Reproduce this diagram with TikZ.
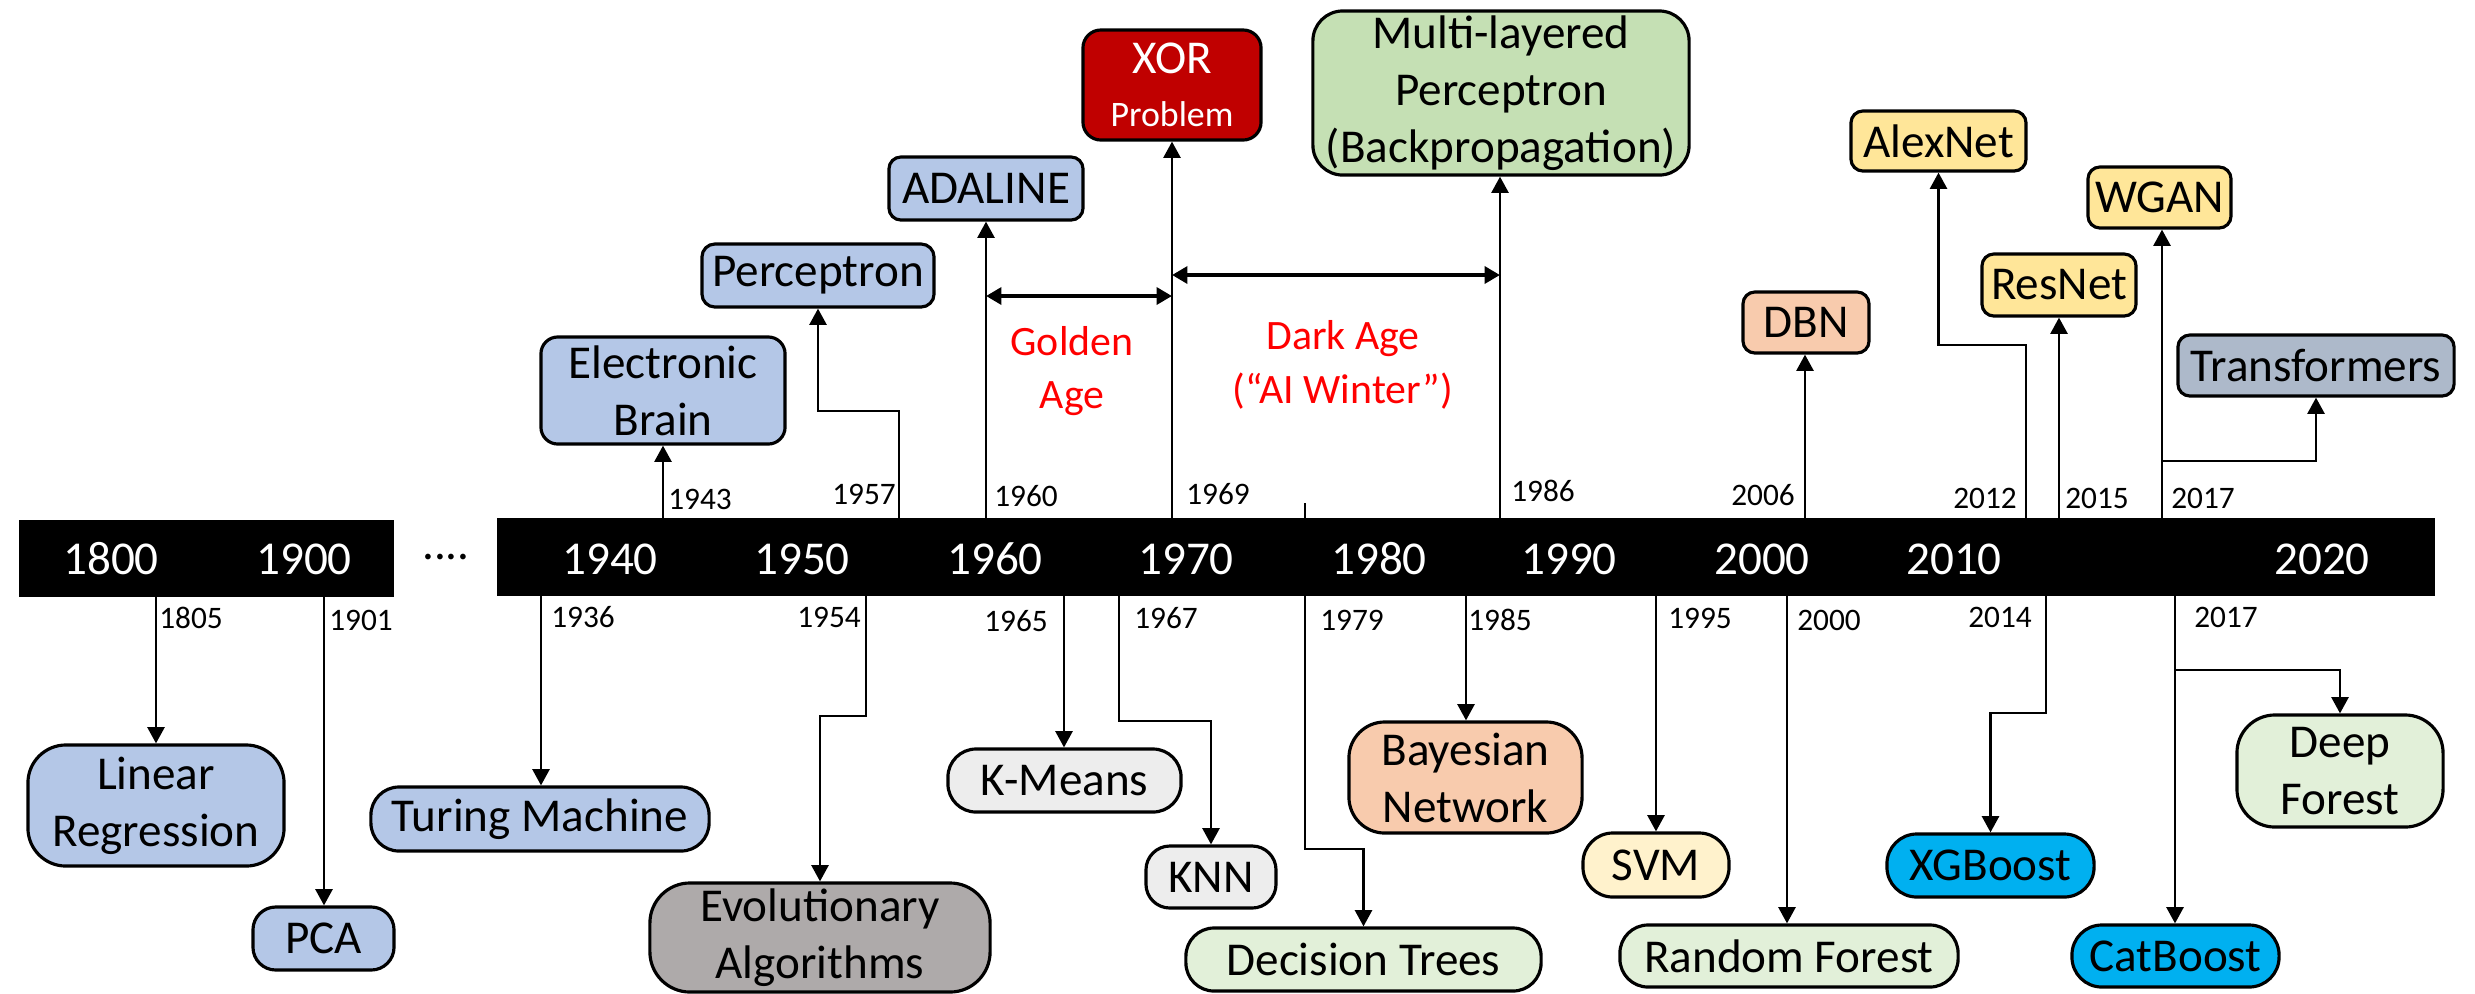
\documentclass[tikz,border=0pt]{standalone}
\usepackage{fontspec}
\setmainfont{Carlito}
\usetikzlibrary{arrows.meta}
\definecolor{cBlue}{HTML}{B4C7E7}
\definecolor{cRed}{HTML}{C00000}
\definecolor{cGreen}{HTML}{C5E0B4}
\definecolor{cPeach}{HTML}{F8CBAD}
\definecolor{cGold}{HTML}{FFE699}
\definecolor{cSlate}{HTML}{ADB9CA}
\definecolor{cLight}{HTML}{EDEDED}
\definecolor{cGray}{HTML}{AEAAAA}
\definecolor{cMint}{HTML}{E2F0D9}
\definecolor{cCream}{HTML}{FFF2CC}
\definecolor{cCyan}{HTML}{00B0F0}
\begin{document}
\begin{tikzpicture}[x=0.01cm,y=-0.01cm,
  box/.style={draw=black, line width=0.9pt, inner sep=0pt, align=center,
              font=\fontsize{13.4pt}{16.2pt}\selectfont},
  conn/.style={line width=0.75pt, -{Triangle[length=4.6pt,width=4.8pt]}},
  yr/.style={font=\fontsize{8.9pt}{10pt}\selectfont, inner sep=0pt},
  decade/.style={text=white, font=\fontsize{13.4pt}{16pt}\selectfont, inner sep=0pt},
  era/.style={text=red, align=center, inner sep=0pt, font=\fontsize{11.9pt}{15.2pt}\selectfont},
  span/.style={line width=1.1pt, {Triangle[length=4.4pt,width=4.8pt]}-{Triangle[length=4.4pt,width=4.8pt]}},
  bar/.style={fill=black, inner sep=0pt}
]
\useasboundingbox (0,0) rectangle (2475,993);

% timeline bars
\node[bar, minimum width=3.75cm, minimum height=0.77cm] (bar1) at (206.5,558.5) {};
\node[bar, minimum width=19.36cm, minimum height=0.78cm] (bar2) at (1466,557) {};
\node[anchor=base, inner sep=0pt, font=\fontsize{13.4pt}{16pt}\selectfont] (dots) at (446,559) {....};

% decade labels
\node[decade] (d1800) at (111,559) {1800};
\node[decade] (d1900) at (304,559) {1900};
\node[decade] (d1940) at (610,559) {1940};
\node[decade] (d1950) at (802,559) {1950};
\node[decade] (d1960) at (995,559) {1960};
\node[decade] (d1970) at (1186,559) {1970};
\node[decade] (d1980) at (1379,559) {1980};
\node[decade] (d1990) at (1569,559) {1990};
\node[decade] (d2000) at (1762,559) {2000};
\node[decade] (d2010) at (1954,559) {2010};
\node[decade] (d2020) at (2322,559) {2020};

% upper boxes
\node[box, fill=cBlue, minimum width=2.44cm, minimum height=1.07cm, rounded corners=4.8pt] (ebrain) at (663,390.5) {Electronic\\Brain};
\node[box, fill=cBlue, minimum width=2.32cm, minimum height=0.63cm, rounded corners=3.7pt] (percep) at (818,275.5) {Perceptron};
\node[box, fill=cBlue, minimum width=1.94cm, minimum height=0.63cm, rounded corners=3.4pt] (adaline) at (986,188.5) {ADALINE};
\node[box, fill=cRed, text=white, minimum width=1.78cm, minimum height=1.10cm, rounded corners=5.1pt] (xor) at (1172,85) {XOR\\[-1pt]{\fontsize{10.2pt}{12pt}\selectfont Problem}};
\node[box, fill=cGreen, minimum width=3.76cm, minimum height=1.64cm, rounded corners=8.5pt] (mlp) at (1501,93) {Multi-layered\\Perceptron\\(Backpropagation)};
\node[box, fill=cPeach, minimum width=1.26cm, minimum height=0.61cm, rounded corners=3.4pt] (dbn) at (1806,322.5) {DBN};
\node[box, fill=cGold, minimum width=1.75cm, minimum height=0.60cm, rounded corners=3.4pt] (alexnet) at (1938.5,141) {AlexNet};
\node[box, fill=cGold, minimum width=1.54cm, minimum height=0.62cm, rounded corners=3.4pt] (resnet) at (2059,285) {ResNet};
\node[box, fill=cGold, minimum width=1.43cm, minimum height=0.61cm, rounded corners=3.4pt] (wgan) at (2159.5,197.5) {WGAN};
\node[box, fill=cSlate, minimum width=2.76cm, minimum height=0.61cm, rounded corners=3.4pt] (transf) at (2316,365.5) {Transformers};

% lower boxes
\node[box, fill=cBlue, minimum width=2.56cm, minimum height=1.21cm, rounded corners=10.8pt] (linreg) at (156,805.5) {Linear\\Regression};
\node[box, fill=cBlue, minimum width=1.41cm, minimum height=0.63cm, rounded corners=6.5pt] (pca) at (323.5,938.5) {PCA};
\node[box, fill=cBlue, minimum width=3.38cm, minimum height=0.64cm, rounded corners=8pt] (turing) at (540,819) {Turing Machine};
\node[box, fill=cGray, minimum width=3.40cm, minimum height=1.09cm, rounded corners=11.4pt] (evo) at (820,937.5) {Evolutionary\\Algorithms};
\node[box, fill=cLight, minimum width=2.33cm, minimum height=0.63cm, rounded corners=8pt] (kmeans) at (1064.5,780.5) {K-Means};
\node[box, fill=cLight, minimum width=1.30cm, minimum height=0.62cm, rounded corners=6.8pt] (knn) at (1211,877) {KNN};
\node[box, fill=cMint, minimum width=3.55cm, minimum height=0.63cm, rounded corners=8pt] (dtrees) at (1363.5,959.5) {Decision Trees};
\node[box, fill=cPeach, minimum width=2.33cm, minimum height=1.11cm, rounded corners=10.2pt] (bayes) at (1465.5,777.5) {Bayesian\\Network};
\node[box, fill=cCream, minimum width=1.46cm, minimum height=0.64cm, rounded corners=8.5pt] (svm) at (1656,865) {SVM};
\node[box, fill=cMint, minimum width=3.38cm, minimum height=0.62cm, rounded corners=8pt] (rforest) at (1789,956) {Random Forest};
\node[box, fill=cCyan, minimum width=2.07cm, minimum height=0.63cm, rounded corners=8.5pt] (xgb) at (1990.5,865.5) {XGBoost};
\node[box, fill=cCyan, minimum width=2.07cm, minimum height=0.62cm, rounded corners=8.5pt] (catb) at (2175.5,956) {CatBoost};
\node[box, fill=cMint, minimum width=2.06cm, minimum height=1.12cm, rounded corners=10.8pt] (dforest) at (2340,771) {Deep\\Forest};

% anchor points on the bars
\coordinate (u1943) at (663,518);
\coordinate (u1957) at (899,518);
\coordinate (u1960) at (986,518);
\coordinate (u1969) at (1172,518);
\coordinate (u1979) at (1305,518);
\coordinate (u1986) at (1500,518);
\coordinate (u2006) at (1805,518);
\coordinate (u2012) at (2026,518);
\coordinate (u2015) at (2059,518);
\coordinate (u2017) at (2162,518);
\coordinate (l1805) at (156,597);
\coordinate (l1901) at (324,597);
\coordinate (l1936) at (541,596);
\coordinate (l1954) at (866,596);
\coordinate (l1965) at (1064,596);
\coordinate (l1967) at (1119,596);
\coordinate (l1979) at (1305,596);
\coordinate (l1985) at (1466,596);
\coordinate (l1995) at (1656,596);
\coordinate (l2000) at (1787,596);
\coordinate (l2014) at (2046,596);
\coordinate (l2017) at (2175,596);
\coordinate (tick) at (1305,503);

% upward connectors
\draw[conn] (u1943) -- (u1943 |- ebrain.south);
\draw[conn] (u1957) -- (899,411) -| (percep.south);
\draw[conn] (u1960) -- (u1960 |- adaline.south);
\draw[conn] (u1969) -- (u1969 |- xor.south);
\draw[line width=0.75pt] (tick) -- (u1979);
\draw[conn] (u1986) -- (u1986 |- mlp.south);
\draw[conn] (u2006) -- (u2006 |- dbn.south);
\draw[conn] (u2012) -- (2026,345) -| (alexnet.south);
\draw[conn] (u2015) -- (u2015 |- resnet.south);
\draw[conn] (u2017) -- (u2017 |- wgan.south);
\draw[conn] (2162,461) -| (transf.south);

% downward connectors
\draw[conn] (l1805) -- (l1805 |- linreg.north);
\draw[conn] (l1901) -- (l1901 |- pca.north);
\draw[conn] (l1936) -- (l1936 |- turing.north);
\draw[conn] (l1954) -- (866,716) -| (evo.north);
\draw[conn] (l1965) -- (l1965 |- kmeans.north);
\draw[conn] (l1967) -- (1119,721) -| (knn.north);
\draw[conn] (l1979) -- (1305,849) -| (dtrees.north);
\draw[conn] (l1985) -- (l1985 |- bayes.north);
\draw[conn] (l1995) -- (l1995 |- svm.north);
\draw[conn] (l2000) -- (l2000 |- rforest.north);
\draw[conn] (l2014) -- (2046,713) -| (xgb.north);
\draw[conn] (l2017) -- (l2017 |- catb.north);
\draw[conn] (2175,670) -| (dforest.north);

% eras
\draw[span] (986,296) -- (1172,296);
\draw[span] (1172,275) -- (1500,275);
\node[era] (golden) at (1072,371) {Golden\\Age};
\node[era] (dark) at (1343,365) {Dark Age\\(“AI Winter”)};

% year labels
\node[yr] at (700,499) {1943};
\node[yr] at (864,494) {1957};
\node[yr] at (1026,496) {1960};
\node[yr] at (1218,494) {1969};
\node[yr] at (1543,491) {1986};
\node[yr] at (1763,495) {2006};
\node[yr] at (1985,498) {2012};
\node[yr] at (2097,498) {2015};
\node[yr] at (2203,498) {2017};
\node[yr] at (191,618) {1805};
\node[yr] at (361,620) {1901};
\node[yr] at (583,617) {1936};
\node[yr] at (829,617) {1954};
\node[yr] at (1016,621) {1965};
\node[yr] at (1166,618) {1967};
\node[yr] at (1352,620) {1979};
\node[yr] at (1500,620) {1985};
\node[yr] at (1700,618) {1995};
\node[yr] at (1829,620) {2000};
\node[yr] at (2000,617) {2014};
\node[yr] at (2226,617) {2017};
\end{tikzpicture}
\end{document}
